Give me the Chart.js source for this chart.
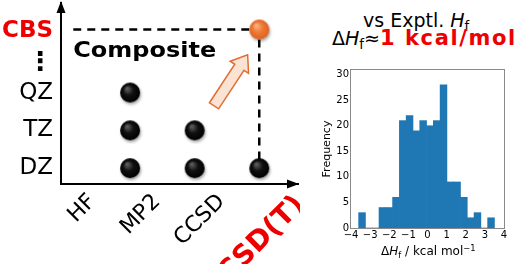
<!DOCTYPE html>
<html>
<head>
<meta charset="utf-8">
<script src="https://cdn.jsdelivr.net/npm/chart.js@4.4.0/dist/chart.umd.min.js"></script>
<style>
body{margin:0;width:520px;height:264px;position:relative;background:#fff;overflow:hidden;font-family:"DejaVu Sans",sans-serif}
#left{position:absolute;left:0;top:0}
#hist{position:absolute;left:300px;top:60px}
.hd{position:absolute;white-space:nowrap;font-size:19px;line-height:19px;color:#000}
.hd b{font-size:21px;letter-spacing:1.6px;color:#ee0000}
.ax{position:absolute;white-space:nowrap;font-size:12px;line-height:12px;color:#000}
.sb{font-size:0.7em;position:relative;top:0.3em}
.sp{font-size:0.7em;position:relative;top:-0.45em}
</style>
</head>
<body>
<canvas id="left" width="300" height="264"></canvas>
<canvas id="hist" width="220" height="204"></canvas>
<div class="hd" style="left:363px;top:11px">vs Exptl. <i>H</i><span class="sb">f</span></div>
<div class="hd" style="left:332px;top:29px">Δ<i>H</i><span class="sb">f</span>≈<b>1 kcal/mol</b></div>
<div class="ax" style="left:381px;top:245px">Δ<i>H</i><span class="sb">f</span> / kcal mol<span class="sp">−1</span></div>
<script>
// left panel: method / basis grid
let methods = ['HF', 'MP2', 'CCSD', 'CCSD(T)']
let methodTickPos = [0, 1, 2, 3.22]
let basisLabels = ['DZ', 'TZ', 'QZ', '⋮', 'CBS']
let basisPos = [0, 1, 2, 2.78, 3.64]
let calcMethod = [1, 2, 3, 1, 2, 1]
let calcBasis = [0, 0, 0, 1, 1, 2]
let compMethod = [3]
let compBasis = [3.67]
let guideX = [0.12, 3, 3]
let guideY = [3.67, 3.67, 0.14]
let arrowFrom = [2.3, 1.65]
let arrowTo = [2.82, 3.0]

// right panel: histogram of errors
let binCenters = [-3.4225, -3.0675, -2.7125, -2.3575, -2.0025, -1.6475, -1.2925, -0.9375, -0.5825, -0.2275,
                  0.1275, 0.4825, 0.8375, 1.1925, 1.5475, 1.9025, 2.2575, 2.6125, 2.9675, 3.3225]
let counts = [3, 0, 0, 4, 4, 6, 21, 22, 19, 21, 20, 21, 28, 9, 9, 6, 2, 3, 0, 2]
let xTicks = [-4, -3, -2, -1, 0, 1, 2, 3, 4]
let xTickLabels = ['−4', '−3', '−2', '−1', '0', '1', '2', '3', '4']
let yTicks = [0, 5, 10, 15, 20, 25, 30]

const red = '#ee0000'
Chart.defaults.font.family = '"DejaVu Sans", sans-serif'
Chart.defaults.color = '#000'

function ball(c0, c1, c2) {
    const cv = document.createElement('canvas')
    cv.width = 28
    cv.height = 28
    const g = cv.getContext('2d')
    g.shadowColor = 'rgba(0,0,0,0.35)'
    g.shadowBlur = 3
    g.shadowOffsetX = 1
    g.shadowOffsetY = 2
    const gr = g.createRadialGradient(11, 10, 1, 14, 14, 10)
    gr.addColorStop(0, c0)
    gr.addColorStop(0.45, c1)
    gr.addColorStop(1, c2)
    g.fillStyle = gr
    g.beginPath()
    g.arc(14, 14, 10, 0, Math.PI * 2)
    g.fill()
    return cv
}
const blackBall = ball('#5a5a5a', '#111', '#000')
const orangeBall = ball('#f9b07e', '#ef7b38', '#e0611d')

const decor = {
    id: 'decor',
    afterDatasetsDraw(chart) {
        const ctx = chart.ctx
        const {left, right, top, bottom} = chart.chartArea
        const x = chart.scales.x, y = chart.scales.y
        ctx.save()
        // axis arrow heads
        ctx.fillStyle = '#000'
        ctx.beginPath()
        ctx.moveTo(left, top - 2)
        ctx.lineTo(left - 4.5, top + 10)
        ctx.lineTo(left + 4.5, top + 10)
        ctx.closePath()
        ctx.fill()
        ctx.beginPath()
        ctx.moveTo(right + 1, bottom)
        ctx.lineTo(right - 11, bottom - 4.5)
        ctx.lineTo(right - 11, bottom + 4.5)
        ctx.closePath()
        ctx.fill()
        // label inside the grid
        ctx.font = 'bold 22px "DejaVu Sans"'
        ctx.textBaseline = 'middle'
        ctx.translate(x.getPixelForValue(0.12), y.getPixelForValue(3.08))
        ctx.scale(1.09, 1)
        ctx.fillText('Composite', 0, 0)
        ctx.restore()
        // block arrow
        const x0 = x.getPixelForValue(arrowFrom[0]), y0 = y.getPixelForValue(arrowFrom[1])
        const x1 = x.getPixelForValue(arrowTo[0]), y1 = y.getPixelForValue(arrowTo[1])
        const len = Math.hypot(x1 - x0, y1 - y0)
        ctx.save()
        ctx.translate(x0, y0)
        ctx.rotate(Math.atan2(y1 - y0, x1 - x0))
        ctx.beginPath()
        ctx.moveTo(0, -5.5)
        ctx.lineTo(len - 15, -5.5)
        ctx.lineTo(len - 15, -11)
        ctx.lineTo(len, 0)
        ctx.lineTo(len - 15, 11)
        ctx.lineTo(len - 15, 5.5)
        ctx.lineTo(0, 5.5)
        ctx.closePath()
        ctx.fillStyle = '#fbe3d3'
        ctx.fill()
        ctx.strokeStyle = '#e26d32'
        ctx.lineWidth = 1.5
        ctx.stroke()
        ctx.restore()
    }
}

new Chart(document.getElementById('left'), {
    type: 'scatter',
    data: {
        datasets: [
            {
                data: calcMethod.map((m, i) => ({x: m, y: calcBasis[i]})),
                pointStyle: blackBall,
                pointRadius: 0.1,
                pointHoverRadius: 0.1,
                pointBorderWidth: 0,
                order: 1
            },
            {
                data: compMethod.map((m, i) => ({x: m, y: compBasis[i]})),
                pointStyle: orangeBall,
                pointRadius: 0.1,
                pointHoverRadius: 0.1,
                pointBorderWidth: 0,
                order: 0
            },
            {
                type: 'line',
                data: guideX.map((v, i) => ({x: v, y: guideY[i]})),
                showLine: true,
                borderColor: '#000',
                borderWidth: 2.5,
                borderDash: [8, 6],
                pointRadius: 0,
                pointHoverRadius: 0,
                fill: false,
                order: 2
            }
        ]
    },
    options: {
        responsive: false,
        animation: false,
        events: [],
        layout: {autoPadding: false, padding: {left: 0, right: 2, top: 3, bottom: 0}},
        plugins: {legend: {display: false}, tooltip: {enabled: false}},
        scales: {
            x: {
                type: 'linear',
                min: -0.07,
                max: 3.6,
                grid: {display: false, drawTicks: false},
                border: {color: '#000', width: 2},
                afterBuildTicks: s => { s.ticks = methodTickPos.map(v => ({value: v})) },
                afterFit: s => { s.height = 80; s.paddingLeft = 0; s.paddingRight = 0 },
                ticks: {
                    autoSkip: false,
                    minRotation: 45,
                    maxRotation: 45,
                    padding: 5,
                    labelOffset: 27,
                    callback: (v, i) => methods[i],
                    color: c => c.index === 3 ? red : '#000',
                    font: c => c.index === 3 ? {size: 28, weight: 'bold'} : {size: 22}
                }
            },
            y: {
                type: 'linear',
                min: -0.42,
                max: 4.37,
                grid: {display: false, drawTicks: false},
                border: {color: '#000', width: 2},
                afterBuildTicks: s => { s.ticks = basisPos.map(v => ({value: v})) },
                afterFit: s => { s.width = 61; s.paddingTop = 0; s.paddingBottom = 0 },
                ticks: {
                    autoSkip: false,
                    padding: 8,
                    callback: (v, i) => basisLabels[i],
                    color: c => c.index === 4 ? red : '#000',
                    font: c => c.index === 3 ? {size: 26, weight: 'bold'} : c.index === 4 ? {size: 23, weight: 'bold'} : {size: 23}
                }
            }
        }
    },
    plugins: [decor]
})

const frame = {
    id: 'frame',
    afterDraw(chart) {
        const {left, right, top, bottom} = chart.chartArea
        const ctx = chart.ctx
        ctx.save()
        ctx.strokeStyle = '#8a8a8a'
        ctx.lineWidth = 1
        ctx.strokeRect(Math.round(left) - 0.5, Math.round(top) - 0.5, Math.round(right - left) + 1, Math.round(bottom - top) + 1)
        ctx.restore()
    }
}

new Chart(document.getElementById('hist'), {
    type: 'bar',
    data: {
        datasets: [{
            data: binCenters.map((v, i) => ({x: v, y: counts[i]})),
            backgroundColor: '#1f77b4',
            borderWidth: 0,
            barPercentage: 1,
            categoryPercentage: 1
        }]
    },
    options: {
        responsive: false,
        animation: false,
        events: [],
        layout: {autoPadding: false, padding: {left: 0, right: 16, top: 10, bottom: 0}},
        plugins: {legend: {display: false}, tooltip: {enabled: false}},
        scales: {
            x: {
                type: 'linear',
                min: -4,
                max: 4,
                offset: false,
                grid: {display: false, drawTicks: false},
                border: {display: false},
                afterBuildTicks: s => { s.ticks = xTicks.map(v => ({value: v})) },
                afterFit: s => { s.height = 36; s.paddingLeft = 0; s.paddingRight = 0 },
                ticks: {autoSkip: false, maxRotation: 0, padding: 1, font: {size: 10}, callback: (v, i) => xTickLabels[i]}
            },
            y: {
                type: 'linear',
                min: 0,
                max: 30.9,
                grid: {display: false, drawTicks: false},
                border: {display: false},
                afterBuildTicks: s => { s.ticks = yTicks.map(v => ({value: v})) },
                afterFit: s => { s.width = 51; s.paddingTop = 0; s.paddingBottom = 0 },
                ticks: {padding: 2, font: {size: 10}, callback: (v, i) => String(yTicks[i])},
                title: {display: true, text: 'Frequency', font: {size: 11}, padding: {top: 21, bottom: 0}}
            }
        }
    },
    plugins: [frame]
})
</script>
</body>
</html>
